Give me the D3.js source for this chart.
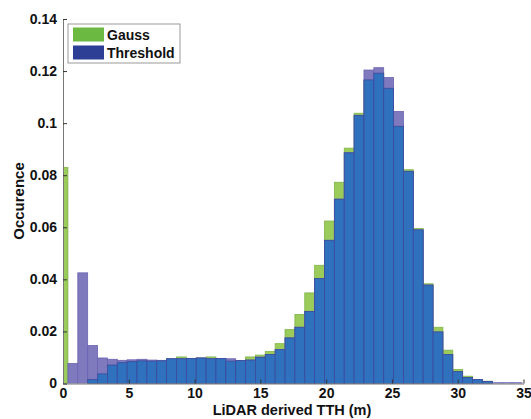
<!DOCTYPE html>
<html>
<head>
<meta charset="utf-8">
<script src="https://cdn.jsdelivr.net/npm/d3@7/dist/d3.min.js"></script>
<style>
  body { margin: 0; background: #fff; }
  svg text { font-family: "Liberation Sans", Arial, Helvetica, sans-serif; font-weight: bold; fill: #111; }
</style>
</head>
<body>
<svg width="531" height="419"></svg>
<script>
var svg = d3.select('svg');

// bin centres (m), bins are 0.75 m wide
var binCenters = [0, 0.75, 1.5, 2.25, 3, 3.75, 4.5, 5.25, 6, 6.75, 7.5, 8.25, 9, 9.75,
  10.5, 11.25, 12, 12.75, 13.5, 14.25, 15, 15.75, 16.5, 17.25, 18, 18.75, 19.5, 20.25,
  21, 21.75, 22.5, 23.25, 24, 24.75, 25.5, 26.25, 27, 27.75, 28.5, 29.25, 30, 30.75,
  31.5, 32.25, 33, 33.75, 34.5];

var gauss = [0.083, 0, 0, 0.0015, 0.0037, 0.0071, 0.0080, 0.0084, 0.0087, 0.0086, 0.0087,
  0.0095, 0.0102, 0.0096, 0.0098, 0.0102, 0.0096, 0.0086, 0.0088, 0.0102, 0.0109, 0.0123,
  0.0153, 0.0207, 0.0265, 0.0348, 0.0454, 0.0624, 0.0773, 0.0904, 0.1038, 0.1166, 0.1192,
  0.1134, 0.0988, 0.0821, 0.0595, 0.0383, 0.0216, 0.0128, 0.0054, 0.0028, 0.0015, 0.0009,
  0, 0, 0];

var threshold = [0, 0.0077, 0.0425, 0.0146, 0.0098, 0.0093, 0.0089, 0.0091, 0.0093, 0.0090,
  0.0089, 0.0095, 0.0095, 0.0096, 0.0098, 0.0095, 0.0096, 0.0095, 0.0088, 0.0090, 0.0101,
  0.0111, 0.0130, 0.0175, 0.0216, 0.0277, 0.0403, 0.0550, 0.0708, 0.0886, 0.1030, 0.1204,
  0.1213, 0.1175, 0.1045, 0.0815, 0.0590, 0.0378, 0.0198, 0.0111, 0.0046, 0.0023, 0.0015,
  0.0008, 0.0003, 0.0003, 0.0003];

var xTicks = [0, 5, 10, 15, 20, 25, 30, 35];
var yTicks = [0, 0.02, 0.04, 0.06, 0.08, 0.1, 0.12, 0.14];
var yTickLabels = ['0', '0.02', '0.04', '0.06', '0.08', '0.1', '0.12', '0.14'];
var seriesNames = ['Gauss', 'Threshold'];

var binWidth = 0.75;
var greenBar = '#9bcb5b', purpleBar = '#7f79bd', blueBar = '#2f71bd', edge = '#3c4b9e';
var legendColors = ['#6cb942', '#2c3f95'];

var x = d3.scaleLinear().domain([0, 35]).range([63, 523.5]);
var y = d3.scaleLinear().domain([0, 0.14]).range([383.5, 19]);

var data = binCenters.map(function(c, i) {
    return {c: c, g: gauss[i], t: threshold[i]};
});

svg.append('clipPath').attr('id', 'plotClip')
  .append('rect')
    .attr('x', x(0)).attr('y', y(0.14))
    .attr('width', x(35) - x(0)).attr('height', y(0) - y(0.14));

var barsG = svg.append('g').attr('clip-path', 'url(#plotClip)');

function addLayer(cls, val, fill, stroke) {
    barsG.selectAll('.' + cls)
        .data(data.filter(function(d) { return val(d) > 0; }))
        .enter().append('rect')
        .attr('class', cls)
        .attr('x', function(d) { return x(d.c - binWidth / 2); })
        .attr('width', function(d) { return x(d.c + binWidth / 2) - x(d.c - binWidth / 2); })
        .attr('y', function(d) { return y(val(d)); })
        .attr('height', function(d) { return y(0) - y(val(d)); })
        .style('fill', fill)
        .style('stroke', stroke)
        .style('stroke-width', 0.8);
}

// green first, purple over it, then the shared part in blue
addLayer('gbar', function(d) { return d.g; }, greenBar, '#7fb548');
addLayer('tbar', function(d) { return d.t; }, purpleBar, '#6a63b0');
addLayer('obar', function(d) { return Math.min(d.g, d.t); }, blueBar, edge);

// axes, ticks point inwards like matlab
var xAxisG = svg.append('g')
    .attr('transform', 'translate(0,' + y(0) + ')')
    .call(d3.axisBottom(x).tickValues(xTicks).tickSizeInner(-4).tickSizeOuter(0).tickPadding(5)
        .tickFormat(d3.format('d')));

var yAxisG = svg.append('g')
    .attr('transform', 'translate(' + x(0) + ',0)')
    .call(d3.axisLeft(y).tickValues(yTicks).tickSizeInner(-4).tickSizeOuter(0).tickPadding(6)
        .tickFormat(function(d, i) { return yTickLabels[i]; }));

svg.selectAll('.domain').style('stroke', '#777');
svg.selectAll('.tick line').style('stroke', '#333');
svg.selectAll('.tick text').style('font-size', '14px').style('font-family', null);

svg.append('text')
    .attr('x', 292).attr('y', 415)
    .attr('text-anchor', 'middle')
    .style('font-size', '14.5px')
    .text('LiDAR derived TTH (m)');

svg.append('text')
    .attr('transform', 'translate(24,201) rotate(-90)')
    .attr('text-anchor', 'middle')
    .style('font-size', '15px')
    .text('Occurence');

// legend
var legend = svg.append('g');
legend.append('rect')
    .attr('x', 68).attr('y', 24).attr('width', 112).attr('height', 39)
    .style('fill', '#fff').style('stroke', '#999').style('stroke-width', 1);

seriesNames.forEach(function(name, i) {
    legend.append('rect')
        .attr('x', 73).attr('y', 27.5 + i * 18)
        .attr('width', 31).attr('height', 14)
        .style('fill', legendColors[i]);
    legend.append('text')
        .attr('x', 107).attr('y', 40 + i * 18)
        .style('font-size', '14px')
        .text(name);
});
</script>
</body>
</html>
